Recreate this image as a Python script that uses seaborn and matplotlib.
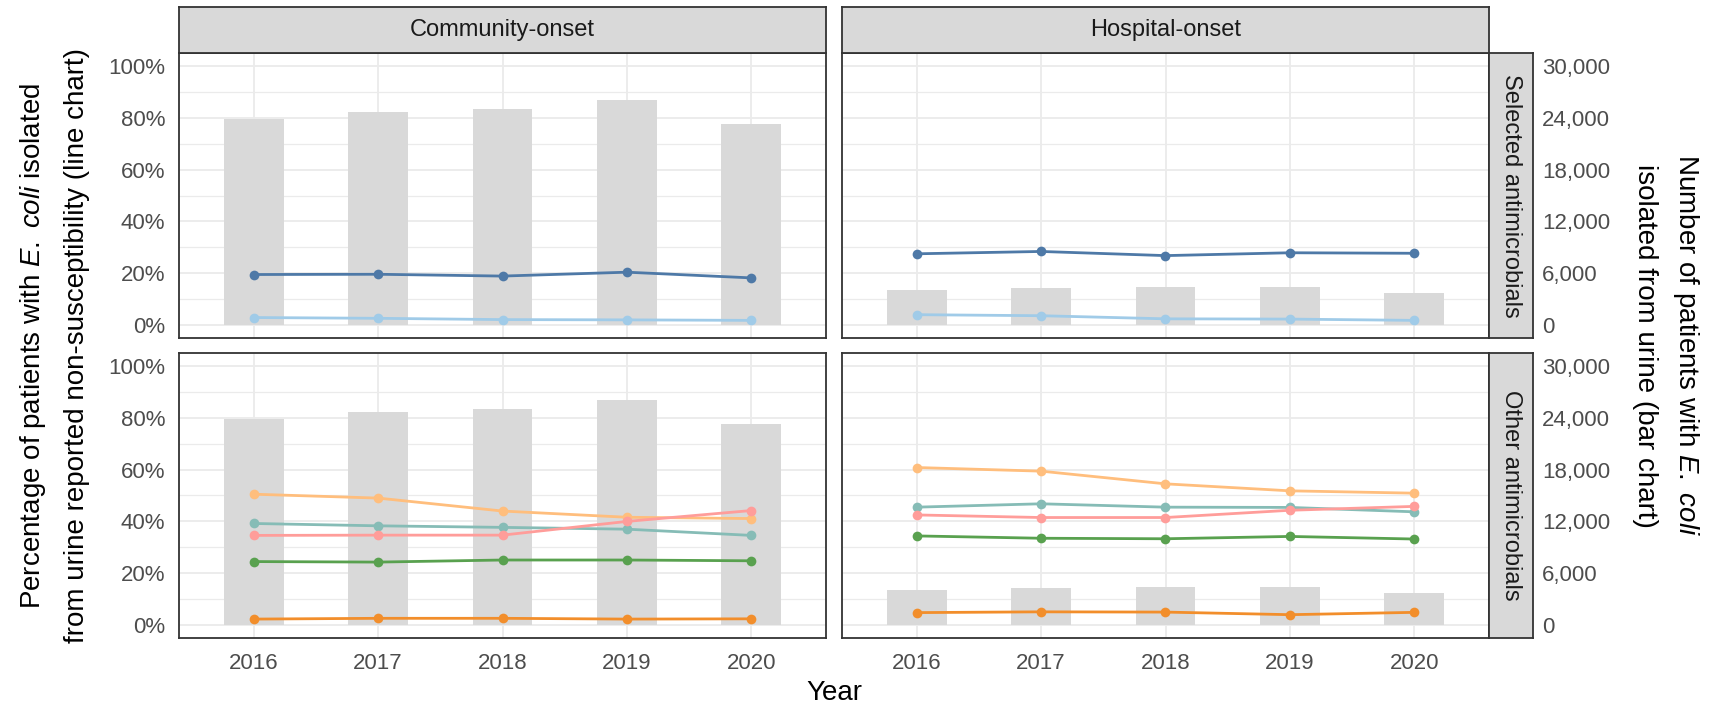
import matplotlib
matplotlib.use("Agg")
import matplotlib.pyplot as plt
from matplotlib.ticker import FuncFormatter, MultipleLocator
import numpy as np
import pandas as pd
import seaborn as sns

# ---- data -------------------------------------------------------------
years = [2016, 2017, 2018, 2019, 2020]
onsets = ["Community-onset", "Hospital-onset"]
groups = ["Selected antimicrobials", "Other antimicrobials"]

# number of patients with E. coli isolated from urine (bars)
count_community = [23850, 24700, 25000, 26100, 23250]
count_hospital = [4050, 4250, 4350, 4420, 3760]

# percentage non-susceptible (lines)
sel_a_community = [19.5, 19.6, 18.9, 20.4, 18.2]
sel_b_community = [2.9, 2.6, 2.1, 2.0, 1.8]
sel_a_hospital = [27.5, 28.4, 26.8, 27.9, 27.7]
sel_b_hospital = [4.0, 3.6, 2.4, 2.3, 1.8]

oth_a_community = [50.5, 49.0, 44.0, 41.6, 41.1]
oth_b_community = [39.2, 38.3, 37.7, 37.0, 34.6]
oth_c_community = [34.6, 34.7, 34.7, 40.0, 44.2]
oth_d_community = [24.5, 24.3, 25.1, 25.1, 24.8]
oth_e_community = [2.3, 2.6, 2.6, 2.3, 2.4]

oth_a_hospital = [60.8, 59.4, 54.5, 51.8, 50.9]
oth_b_hospital = [45.5, 46.8, 45.5, 45.4, 43.7]
oth_c_hospital = [42.5, 41.5, 41.5, 44.3, 45.8]
oth_d_hospital = [34.4, 33.5, 33.3, 34.2, 33.2]
oth_e_hospital = [4.8, 5.1, 5.0, 4.0, 4.9]

palette = {
    "sel_a": "#4E79A7", "sel_b": "#A0CBE8",
    "oth_a": "#FFBE7D", "oth_b": "#86BCB6", "oth_c": "#FF9D9A",
    "oth_d": "#59A14F", "oth_e": "#F28E2B",
}

series = {
    ("Community-onset", "Selected antimicrobials"): {"sel_a": sel_a_community, "sel_b": sel_b_community},
    ("Hospital-onset", "Selected antimicrobials"): {"sel_a": sel_a_hospital, "sel_b": sel_b_hospital},
    ("Community-onset", "Other antimicrobials"): {
        "oth_a": oth_a_community, "oth_b": oth_b_community, "oth_c": oth_c_community,
        "oth_d": oth_d_community, "oth_e": oth_e_community},
    ("Hospital-onset", "Other antimicrobials"): {
        "oth_a": oth_a_hospital, "oth_b": oth_b_hospital, "oth_c": oth_c_hospital,
        "oth_d": oth_d_hospital, "oth_e": oth_e_hospital},
}
counts = {"Community-onset": count_community, "Hospital-onset": count_hospital}

line_rows = []
for (onset, group), d in series.items():
    for key, vals in d.items():
        for y, v in zip(years, vals):
            line_rows.append({"onset": onset, "group": group, "series": key, "year": y, "pct": v})
lines_df = pd.DataFrame(line_rows)
bars_df = pd.DataFrame([{"onset": o, "year": y, "count": c}
                        for o in onsets for y, c in zip(years, counts[o])])

# ---- style ------------------------------------------------------------
sns.set_style("white")
plt.rcParams["font.family"] = ["Liberation Sans", "DejaVu Sans"]
plt.rcParams["mathtext.fontset"] = "custom"
plt.rcParams["mathtext.rm"] = "Liberation Sans"
plt.rcParams["mathtext.it"] = "Liberation Sans:italic"

W, H = 1719, 705
fig = plt.figure(figsize=(W / 100, H / 100), dpi=100)


def box(x0, y0, x1, y1):
    return [x0 / W, 1 - y1 / H, (x1 - x0) / W, (y1 - y0) / H]


col_x = [(179, 826), (842, 1489)]
row_y = [(53, 338), (353, 638)]
strip_top = (7, 53)
strip_right = (1489, 1533)

BORDER = "#333333"
GRID = "#EBEBEB"
TICK = "#4D4D4D"
STRIP_BG = "#D9D9D9"
BAR = "#D9D9D9"
STRIP_SIZE = 17
TITLE_SIZE = 20

pct_fmt = FuncFormatter(lambda v, _: f"{v:.0f}%")
cnt_fmt = FuncFormatter(lambda v, _: f"{v:,.0f}")

for r, group in enumerate(groups):
    for c, onset in enumerate(onsets):
        x0, x1 = col_x[c]
        y0, y1 = row_y[r]
        axc = fig.add_axes(box(x0, y0, x1, y1))
        axc.set_facecolor("white")
        axc.set_axisbelow(True)

        # bars: patient counts
        sub_b = bars_df[bars_df["onset"] == onset]
        sns.barplot(data=sub_b, x="year", y="count", native_scale=True, width=0.48,
                    color=BAR, saturation=1, errorbar=None, ax=axc, linewidth=0)
        axc.set_ylim(-1500, 31500)
        axc.yaxis.set_major_locator(MultipleLocator(6000))
        axc.yaxis.set_minor_locator(MultipleLocator(3000))
        axc.grid(which="major", color=GRID, linewidth=1.3)
        axc.grid(which="minor", axis="y", color=GRID, linewidth=0.9)
        axc.set_xlim(2015.4, 2020.6)
        axc.set_xticks(years)
        axc.set_xlabel("")
        axc.set_ylabel("")
        for s in axc.spines.values():
            s.set_visible(True)
            s.set_color(BORDER)
            s.set_linewidth(1.3)

        # lines: percentage non-susceptible
        axp = axc.twinx()
        sub_l = lines_df[(lines_df["onset"] == onset) & (lines_df["group"] == group)]
        sns.lineplot(data=sub_l, x="year", y="pct", hue="series", palette=palette,
                     marker="o", markersize=7, markeredgewidth=0, linewidth=2.0,
                     legend=False, ax=axp)
        axp.set_ylim(-5, 105)
        axp.yaxis.set_major_locator(MultipleLocator(20))
        axp.set_xlim(2015.4, 2020.6)
        axp.set_xlabel("")
        axp.set_ylabel("")
        for s in axp.spines.values():
            s.set_visible(False)

        axp.yaxis.tick_left()
        axc.yaxis.tick_right()
        axp.tick_params(axis="both", which="both", length=0)
        axc.tick_params(axis="both", which="both", length=0)

        if c == 0:
            axp.yaxis.set_major_formatter(pct_fmt)
            axp.tick_params(axis="y", labelleft=True, labelsize=16, labelcolor=TICK, pad=10)
        else:
            axp.tick_params(axis="y", labelleft=False)
        if c == 1:
            axc.yaxis.set_major_formatter(cnt_fmt)
            axc.tick_params(axis="y", labelright=True, labelsize=16, labelcolor=TICK, pad=38)
        else:
            axc.tick_params(axis="y", labelright=False)
        if r == 1:
            axc.tick_params(axis="x", labelbottom=True, labelsize=16, labelcolor=TICK, pad=11)
        else:
            axc.tick_params(axis="x", labelbottom=False)
        axp.tick_params(axis="x", labelbottom=False)

# strips
for c, onset in enumerate(onsets):
    sa = fig.add_axes(box(col_x[c][0], strip_top[0], col_x[c][1], strip_top[1]))
    sa.set_facecolor(STRIP_BG)
    sa.set_xticks([])
    sa.set_yticks([])
    for s in sa.spines.values():
        s.set_visible(True)
        s.set_color(BORDER)
        s.set_linewidth(1.3)
    sa.text(0.5, 0.5, onset, ha="center", va="center", fontsize=STRIP_SIZE, color="#1A1A1A",
            transform=sa.transAxes)

for r, group in enumerate(groups):
    sa = fig.add_axes(box(strip_right[0], row_y[r][0], strip_right[1], row_y[r][1]))
    sa.set_facecolor(STRIP_BG)
    sa.set_xticks([])
    sa.set_yticks([])
    for s in sa.spines.values():
        s.set_visible(True)
        s.set_color(BORDER)
        s.set_linewidth(1.3)
    sa.text(0.5, 0.5, group, ha="center", va="center", fontsize=STRIP_SIZE, color="#1A1A1A",
            rotation=270, transform=sa.transAxes)

# axis titles
yc = 1 - ((row_y[0][0] + row_y[1][1]) / 2) / H
fig.text(33 / W, yc, r"Percentage of patients with $\mathit{E.}$ $\mathit{coli}$ isolated",
         rotation=90, ha="center", va="center", fontsize=TITLE_SIZE, color="black")
fig.text(77 / W, yc, "from urine reported non-susceptibility (line chart)",
         rotation=90, ha="center", va="center", fontsize=TITLE_SIZE, color="black")
fig.text(1686 / W, yc, r"Number of patients with $\mathit{E.}$ $\mathit{coli}$",
         rotation=270, ha="center", va="center", fontsize=TITLE_SIZE, color="black")
fig.text(1645 / W, yc, "isolated from urine (bar chart)",
         rotation=270, ha="center", va="center", fontsize=TITLE_SIZE, color="black")
fig.text(((col_x[0][0] + col_x[1][1]) / 2) / W, 1 - 693 / H, "Year",
         ha="center", va="center", fontsize=TITLE_SIZE, color="black")

fig.savefig("out.png", dpi=100, facecolor="white")
